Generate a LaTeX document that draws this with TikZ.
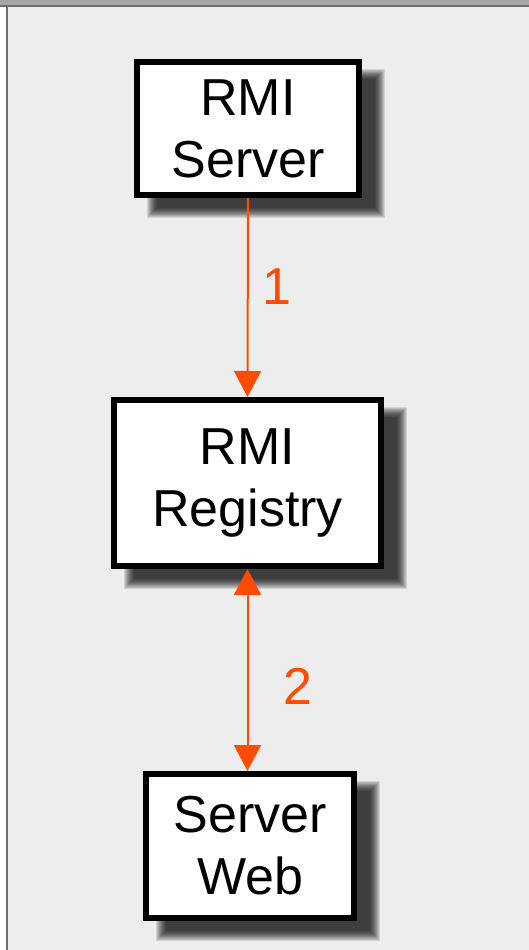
\documentclass[tikz,border=0pt]{standalone}
\usepackage{fontspec}
\setmainfont{Liberation Sans}
\usetikzlibrary{arrows.meta,calc}
\definecolor{canvasbg}{HTML}{EDEDED}
\definecolor{bandgray}{HTML}{A6A6A6}
\definecolor{edgegray}{HTML}{6E6E6E}
\definecolor{linkred}{HTML}{FF4C00}
\pgfdeclarelayer{shade}
\pgfsetlayers{shade,main}
\tikzset{
  box/.style={draw=black, line width=6pt, fill=white, inner sep=0pt,
    align=center, font=\fontsize{52}{62}\selectfont},
  link/.style={draw=linkred, line width=2pt},
  tipend/.style={-{Triangle[width=27pt,length=26pt]}},
  tipboth/.style={{Triangle[width=27pt,length=26pt]}-{Triangle[width=27pt,length=26pt]}},
  steplabel/.style={text=linkred, font=\fontsize{52}{62}\selectfont, inner sep=0pt},
  shadelayer/.style={fill=black, fill opacity=0.11}
}
% soft drop shadow behind a node: stacked translucent rectangles
\newcommand{\softshade}[1]{%
  \begin{pgfonlayer}{shade}
    \foreach \d in {-5,...,5}
      \fill[shadelayer] ($(#1.north west)+(18+\d,15+\d)$) rectangle ($(#1.south east)+(18-\d,15-\d)$);
  \end{pgfonlayer}}
\begin{document}
\begin{tikzpicture}[x=1pt,y=-1pt]
  % canvas and window frame
  \useasboundingbox (0,0) rectangle (529,950);
  \begin{pgfonlayer}{shade}
    \fill[white] (0,0) rectangle (529,950);
    \fill[canvasbg] (7,6) rectangle (529,950);
    \fill[bandgray] (0,0) rectangle (529,5);
    \fill[edgegray] (0,5) rectangle (529,7);
    \fill[edgegray] (6,5) rectangle (8,950);
  \end{pgfonlayer}

  % components
  \node[box, minimum width=222pt, minimum height=133pt] (server) at (248,128.5) {RMI\\Server};
  \node[box, minimum width=267pt, minimum height=166pt] (registry) at (247.5,483) {RMI\\Registry};
  \node[box, minimum width=208pt, minimum height=144pt] (web) at (250,846) {Server\\Web};
  \softshade{server}
  \softshade{registry}
  \softshade{web}

  % interactions
  \draw[link, tipend] (server.south) -- (registry.north);
  \draw[link, tipboth] (registry.south) -- (web.north -| registry.south);
  \node[steplabel] (one) at (277,287) {1};
  \node[steplabel] (two) at (298,686) {2};
\end{tikzpicture}
\end{document}
